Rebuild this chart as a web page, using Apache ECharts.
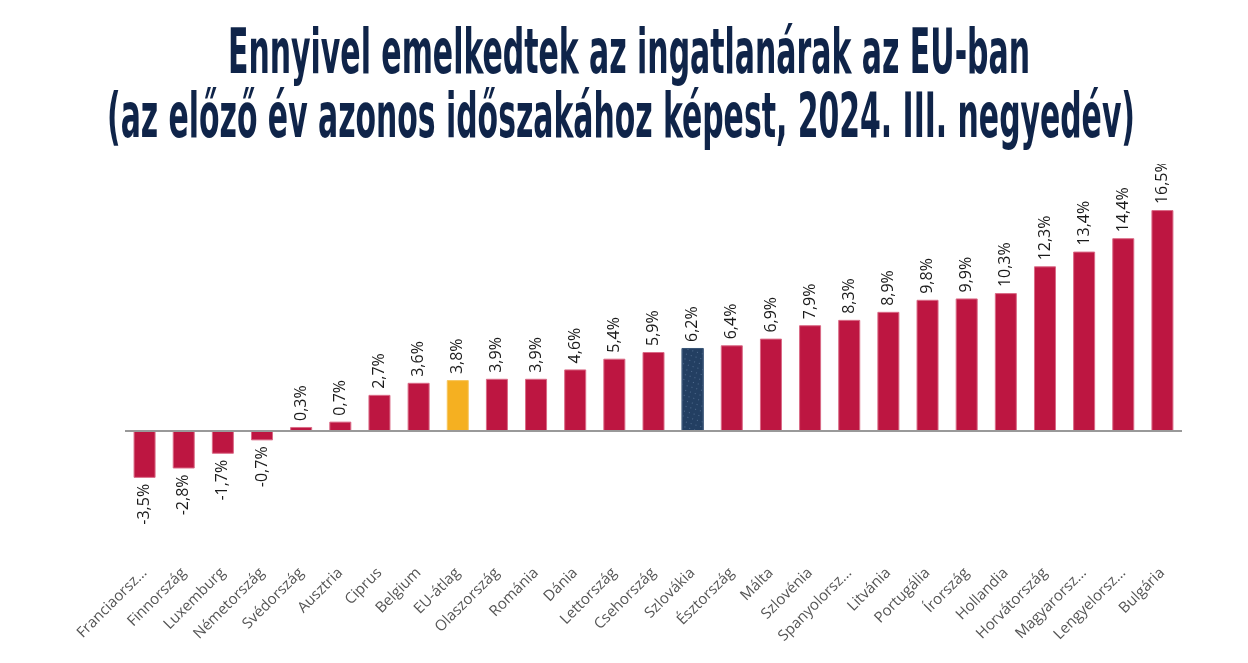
<!DOCTYPE html>
<html>
<head>
<meta charset="utf-8">
<script src="https://cdn.jsdelivr.net/npm/echarts@6/dist/echarts.min.js"></script>
<style>
html,body{margin:0;padding:0;background:#fff;}
#chart{width:1248px;height:663px;}
</style>
</head>
<body>
<div id="chart"></div>
<script>
var titleLines = [
  "Ennyivel emelkedtek az ingatlanárak az EU-ban",
  "(az előző év azonos időszakához képest, 2024. III. negyedév)"
];
var categories = ["Franciaorsz...", "Finnország", "Luxemburg", "Németország", "Svédország", "Ausztria", "Ciprus", "Belgium", "EU-átlag", "Olaszország", "Románia", "Dánia", "Lettország", "Csehország", "Szlovákia", "Észtország", "Málta", "Szlovénia", "Spanyolorsz...", "Litvánia", "Portugália", "Írország", "Hollandia", "Horvátország", "Magyarorsz...", "Lengyelorsz...", "Bulgária"];
var values = [-3.5, -2.8, -1.7, -0.7, 0.3, 0.7, 2.7, 3.6, 3.8, 3.9, 3.9, 4.6, 5.4, 5.9, 6.2, 6.4, 6.9, 7.9, 8.3, 8.9, 9.8, 9.9, 10.3, 12.3, 13.4, 14.4, 16.5];
var euAverage = "EU-átlag";
var slovakia = "Szlovákia";

var RED = "#BD1641", GOLD = "#F5B021", NAVY = "#233F62";
var titleFont = "bold 63px 'DejaVu Sans Condensed'";

function measure(text, font) {
  var c = document.createElement("canvas").getContext("2d");
  c.font = font;
  return c.measureText(text).width;
}
var titleSpecs = [
  {cx: 629, y: 57, w: 802},
  {cx: 621, y: 121, w: 1028}
];

var data = values.map(function (v, i) {
  var cat = categories[i];
  var color = cat === euAverage ? GOLD : (cat === slovakia ? NAVY : RED);
  var item = {
    value: v,
    itemStyle: {
      color: color,
      borderColor: color === RED ? "#DA6A86" : (color === NAVY ? "#3A5577" : "#F7C55C"),
      borderWidth: 1
    }
  };
  if (color === NAVY) {
    item.itemStyle.decal = {
      symbol: "circle", symbolSize: 1, color: "rgba(150,175,210,0.55)",
      dashArrayX: [1, 4], dashArrayY: [1, 4], rotation: 0.3
    };
  }
  if (v < 0) {
    item.label = {position: "bottom", align: "right", verticalAlign: "middle"};
  }
  return item;
});

var graphics = [{
  type: "rect", z: 100, silent: true,
  shape: {x: 0, y: 0, width: 1248, height: 164},
  style: {fill: "#fff"}
}];
titleLines.forEach(function (t, i) {
  var s = titleSpecs[i];
  graphics.push({
    type: "text", z: 101, silent: true,
    x: s.cx, y: s.y, scaleX: s.w / measure(t, titleFont),
    style: {text: t, font: titleFont, fill: "#0F2449", align: "center", verticalAlign: "middle"}
  });
});

var chart = echarts.init(document.getElementById("chart"));
chart.setOption({
  animation: false,
  backgroundColor: "#fff",
  graphic: graphics,
  grid: {left: 125, right: 66, top: 190, bottom: 111.5},
  xAxis: {
    type: "category",
    data: categories,
    axisLine: {show: false, onZero: false},
    axisTick: {show: false},
    axisLabel: {
      rotate: 45, interval: 0, margin: 19,
      color: "#555555", fontFamily: "Open Sans", fontSize: 15
    }
  },
  yAxis: {
    type: "value", min: -9, max: 18, interval: 9,
    show: false,
    splitLine: {show: false}
  },
  series: [{
    type: "bar",
    data: data,
    barWidth: 22,
    label: {
      show: true, position: "top", rotate: 90, distance: 6,
      align: "left", verticalAlign: "middle",
      fontFamily: "Open Sans", fontSize: 16, color: "#1a1a1a",
      formatter: function (p) { return String(p.value).replace(".", ",") + "%"; }
    },
    markLine: {
      silent: true, symbol: "none",
      label: {show: false},
      lineStyle: {color: "#999", width: 2, type: "solid"},
      data: [{yAxis: 0}]
    }
  }]
});
</script>
</body>
</html>
